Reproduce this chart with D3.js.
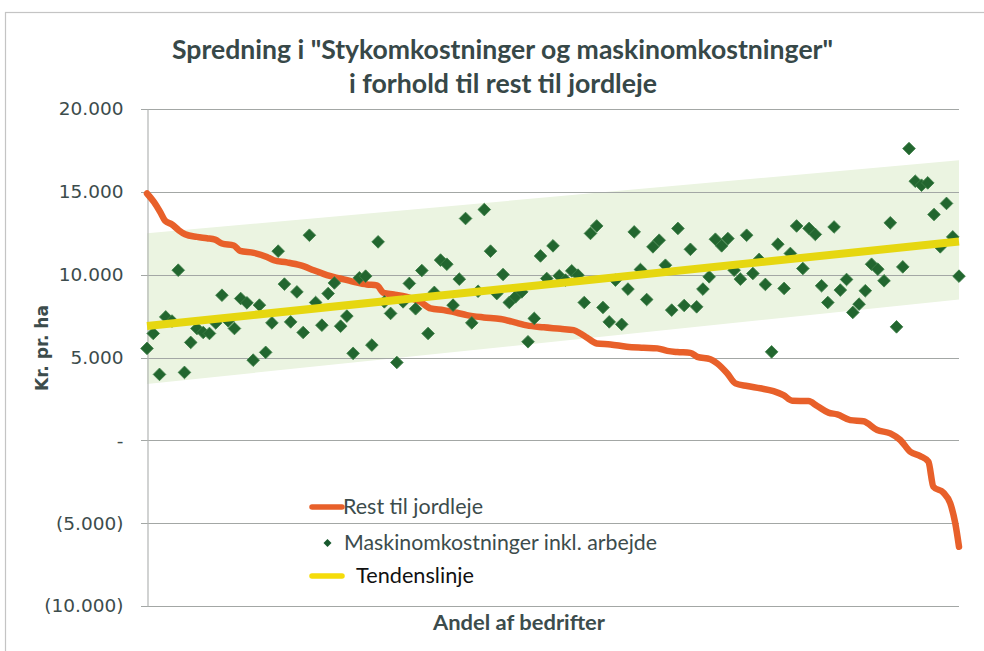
<!DOCTYPE html>
<html>
<head>
<meta charset="utf-8">
<script src="https://cdn.jsdelivr.net/npm/d3@7"></script>
<style>
  body { margin: 0; background: #fff; }
  svg { display: block; }
</style>
</head>
<body>
<svg id="chart" width="984" height="651"></svg>
<script>
// Values.
// x is the farm's rank (0 = first farm, 130 = last), y is kr. per ha.

var titleLines = ['Spredning i "Stykomkostninger og maskinomkostninger"', "i forhold til rest til jordleje"];
var yTicks = [-10000, -5000, 0, 5000, 10000, 15000, 20000];

// Maskinomkostninger inkl. arbejde, one value per farm
var machineCosts = [
  5550, 6450, 3980, 7450, 7200, 10270, 4100, 5910, 6750, 6510,
  6450, 7090, 8760, 7210, 6750, 8560, 8300, 4840, 8160, 5310,
  7090, 11420, 9430, 7150, 8960, 6510, 12380, 8320, 6950, 8860,
  9500, 6890, 7500, 5250, 9810, 9910, 5750, 11980, 8360, 7660,
  4700, 8360, 9470, 7940, 10250, 6450, 8930, 10880, 10630, 8160,
  9730, 13390, 7090, 9000, 13930, 11420, 8860, 10010, 8320, 8660,
  8960, 5950, 7360, 11130, 9770, 11740, 9930, 9670, 10230, 9970,
  8320, 12490, 12940, 8020, 7150, 9670, 7000, 9130, 12580, 10310,
  8500, 11680, 12080, 10570, 7860, 12790, 8140, 11530, 8060, 9130,
  9870, 12140, 11740, 12180, 10270, 9730, 12380, 10070, 10920, 9410,
  5340, 11840, 9170, 11280, 12940, 10370, 12790, 12430, 9330, 8320,
  12880, 9070, 9710, 7720, 8220, 9030, 10630, 10330, 9630, 13130,
  6850, 10470, 17610, 15640, 15400, 15540, 13630, 11680, 14300, 12280,
  9910
];

// Rest til jordleje, sorted curve: rank positions and values
var restX = [
  0, 1.1, 2.1, 2.9, 4.0, 5.1, 6.1, 8.0, 9.6, 10.9,
  12.0, 13.9, 14.9, 17.1, 19.2, 20.3, 22.4, 24.5, 26.7, 28.8,
  30.9, 33.1, 35.2, 36.8, 37.9, 39.5, 41.6, 43.8, 45.4, 47.5,
  49.6, 51.2, 53.9, 56.6, 59.2, 60.8, 63.5, 66.2, 68.3, 69.4,
  70.4, 72.0, 74.2, 76.8, 79.5, 81.7, 83.3, 84.9, 87.0, 88.1,
  90.2, 91.3, 92.9, 94.2, 96.1, 98.2, 100.3, 101.9, 103.3, 105.9,
  107.3, 109.1, 110.5, 112.6, 114.7, 116.9, 119.0, 120.6, 122.2, 123.8,
  125.1, 125.9, 127.5, 128.6, 129.4, 130
];
var restY = [
  14900, 14390, 13790, 13250, 13030, 12680, 12440, 12280, 12200, 12120,
  11880, 11760, 11440, 11320, 11070, 10870, 10740, 10570, 10270, 9970,
  9770, 9570, 9410, 9350, 8900, 8810, 8660, 8350, 7960, 7860,
  7700, 7560, 7420, 7320, 7090, 6940, 6820, 6730, 6650, 6450,
  6210, 5850, 5790, 5650, 5590, 5550, 5400, 5330, 5280, 5040,
  4890, 4640, 4040, 3440, 3280, 3140, 2970, 2730, 2390, 2370,
  2070, 1670, 1570, 1220, 1150, 620, 420, 20, -690, -950,
  -1290, -2800, -3160, -3800, -5000, -6420
];

// Tendenslinje and the shaded spread band, at first and last farm
var trendX = [0, 130];
var trendY = [6900, 12000];
var bandUpper = [12500, 16900];
var bandLower = [3400, 8500];

var legendNames = ["Rest til jordleje", "Maskinomkostninger inkl. arbejde", "Tendenslinje"];

var svg = d3.select("#chart");
var plotLeft = 147, plotRight = 959, plotTop = 109, plotBottom = 606;

var x = d3.scaleLinear().domain([0, machineCosts.length - 1]).range([plotLeft, plotRight]);
var y = d3.scaleLinear().domain([-10000, 20000]).range([plotBottom, plotTop]);

var daLocale = d3.formatLocale({decimal: ",", thousands: ".", grouping: [3], currency: ["", " kr"]});
var fmtNum = daLocale.format(",.0f");
function fmtTick(v){
  if (v === 0) return "-  ";
  if (v < 0) return "(" + fmtNum(-v) + ")";
  return fmtNum(v);
}

var textCol = "#3c4c4c";

// outer frame
svg.append("rect")
  .attr("x", 5.5).attr("y", 12.5)
  .attr("width", 1000).attr("height", 700)
  .attr("fill", "#fff")
  .attr("stroke", "#c4c4c4").attr("stroke-width", 1.2);

// spread band
var bandData = trendX.map(function(d, i){ return {x: d, lo: bandLower[i], hi: bandUpper[i]}; });
svg.append("path")
  .datum(bandData)
  .attr("fill", "#ebf4e1")
  .attr("d", d3.area()
    .x(function(d){ return x(d.x); })
    .y0(function(d){ return y(d.lo); })
    .y1(function(d){ return y(d.hi); }));

// gridlines
svg.append("g")
  .selectAll("line.grid").data(yTicks).enter()
  .append("line")
  .attr("class", "grid")
  .attr("x1", plotLeft - 6).attr("x2", plotRight)
  .attr("y1", function(d){ return Math.round(y(d)) + 0.5; })
  .attr("y2", function(d){ return Math.round(y(d)) + 0.5; })
  .attr("stroke", "#a3a7a5").attr("stroke-width", 1.2);

// y axis
var yAxis = svg.append("g")
  .attr("transform", "translate(" + (plotLeft + 0.5) + ",0)")
  .call(d3.axisLeft(y).tickValues(yTicks).tickFormat(fmtTick).tickSizeInner(0).tickSizeOuter(0).tickPadding(24));
yAxis.select(".domain").attr("stroke", "#b2b5b4").attr("stroke-width", 1.2);
yAxis.selectAll("text")
  .attr("fill", textCol)
  .style("font-family", "'DejaVu Sans', sans-serif")
  .style("font-size", "18.5px");

// orange line
var restData = restX.map(function(d, i){ return [d, restY[i]]; });
svg.append("path")
  .datum(restData)
  .attr("fill", "none")
  .attr("stroke", "#e8602a")
  .attr("stroke-width", 6.5)
  .attr("stroke-linejoin", "round")
  .attr("stroke-linecap", "round")
  .attr("d", d3.line().curve(d3.curveMonotoneX)
    .x(function(d){ return x(d[0]); })
    .y(function(d){ return y(d[1]); }));

// diamonds
var diamond = d3.symbol().type(d3.symbolSquare).size(80);
svg.append("g")
  .selectAll("path.pt").data(machineCosts).enter()
  .append("path")
  .attr("class", "pt")
  .attr("d", diamond)
  .attr("transform", function(d, i){ return "translate(" + x(i) + "," + y(d) + ") rotate(45)"; })
  .attr("fill", "#22662f")
  .attr("stroke", "#3f7f48")
  .attr("stroke-width", 0.8);

// trend line
var trendData = trendX.map(function(d, i){ return [d, trendY[i]]; });
svg.append("path")
  .datum(trendData)
  .attr("fill", "none")
  .attr("stroke", "#e6d710")
  .attr("stroke-width", 8)
  .attr("d", d3.line()
    .x(function(d){ return x(d[0]); })
    .y(function(d){ return y(d[1]); }));

// title
svg.append("g").selectAll("text").data(titleLines).enter()
  .append("text")
  .attr("x", function(d, i){ return i === 0 ? 502.5 : 503; })
  .attr("y", function(d, i){ return 59 + i * 34; })
  .attr("text-anchor", "middle")
  .attr("textLength", function(d, i){ return i === 0 ? 661 : 308; })
  .attr("lengthAdjust", "spacingAndGlyphs")
  .attr("fill", "#374848")
  .style("font-family", "Lato, sans-serif")
  .style("font-weight", "bold")
  .style("font-size", "27px")
  .text(function(d){ return d; });

// axis titles
svg.append("text")
  .attr("transform", "translate(48,348) rotate(-90)")
  .attr("text-anchor", "middle")
  .attr("textLength", 86)
  .attr("lengthAdjust", "spacingAndGlyphs")
  .attr("fill", textCol)
  .style("font-family", "'DejaVu Sans', sans-serif")
  .style("font-weight", "bold")
  .style("font-size", "18px")
  .text("Kr. pr. ha");

svg.append("text")
  .attr("x", 519).attr("y", 630)
  .attr("text-anchor", "middle")
  .attr("textLength", 172)
  .attr("lengthAdjust", "spacingAndGlyphs")
  .attr("fill", textCol)
  .style("font-family", "Lato, sans-serif")
  .style("font-weight", "bold")
  .style("font-size", "21px")
  .text("Andel af bedrifter");

// legend
var legend = svg.append("g");
var legY = [507, 543, 576];
var legTextX = [343, 344, 356];
var legLen = [140, 313, 118];
legend.append("line")
  .attr("x1", 312).attr("x2", 342).attr("y1", legY[0]).attr("y2", legY[0])
  .attr("stroke", "#e8602a").attr("stroke-width", 5.5).attr("stroke-linecap", "round");
legend.append("path")
  .attr("d", d3.symbol().type(d3.symbolSquare).size(32))
  .attr("transform", "translate(327.5," + legY[1] + ") rotate(45)")
  .attr("fill", "#17592d");
legend.append("line")
  .attr("x1", 312).attr("x2", 342).attr("y1", legY[2]).attr("y2", legY[2])
  .attr("stroke", "#f5dc0a").attr("stroke-width", 5.5).attr("stroke-linecap", "round");
legend.selectAll("text").data(legendNames).enter()
  .append("text")
  .attr("x", function(d, i){ return legTextX[i]; })
  .attr("y", function(d, i){ return legY[i]; })
  .attr("dy", "0.35em")
  .attr("textLength", function(d, i){ return legLen[i]; })
  .attr("lengthAdjust", "spacingAndGlyphs")
  .attr("fill", function(d, i){ return i === 2 ? "#111" : textCol; })
  .style("font-family", "Lato, sans-serif")
  .style("font-size", "21px")
  .text(function(d){ return d; });
</script>
</body>
</html>
